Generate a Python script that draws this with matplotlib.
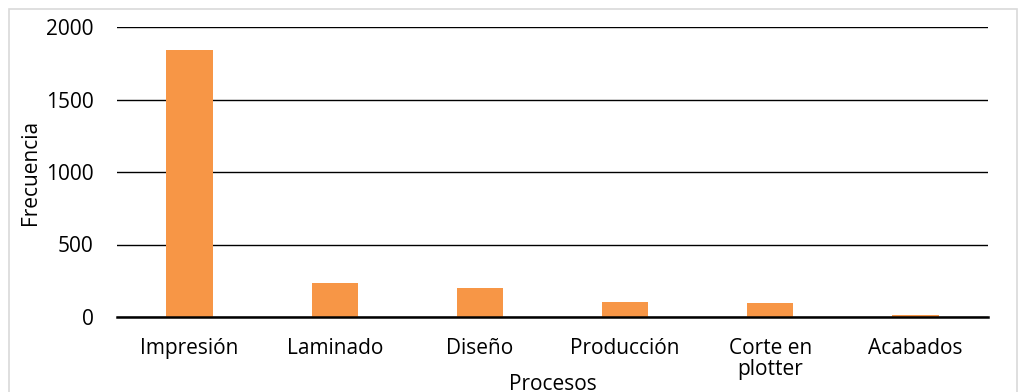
import matplotlib
matplotlib.use("Agg")
import matplotlib.pyplot as plt
from matplotlib.patches import Rectangle

categories = ["Impresión", "Laminado", "Diseño", "Producción", "Corte en\nplotter", "Acabados"]
values = [1840, 234, 202, 106, 95, 14]
yticks = [0, 500, 1000, 1500, 2000]

plt.rcParams['font.family'] = ['Open Sans', 'DejaVu Sans']

W, H = 1026, 392
fs = 15
fig = plt.figure(figsize=(W/100, H/100), dpi=100)
ax = fig.add_axes([117/W, 1-317/H, (988-117)/W, (317-27)/H])

x = list(range(len(categories)))
ax.bar(x, values, width=0.32, color="#F79646", zorder=3)
ax.set_xlim(-0.5, len(categories)-0.5)
ax.set_ylim(0, 2000)
ax.set_yticks(yticks)
ax.set_yticklabels([str(v) for v in yticks])
ax.yaxis.grid(True, color="black", linewidth=1.0, zorder=0)
ax.set_axisbelow(True)
for s in ["top", "right", "left"]:
    ax.spines[s].set_visible(False)
ax.spines["bottom"].set_color("black")
ax.spines["bottom"].set_linewidth(1.8)
ax.spines["bottom"].set_zorder(4)
ax.set_xticks(x)
ax.set_xticklabels(categories, linespacing=1.0)
ax.tick_params(axis="both", length=0, labelsize=fs)
ax.tick_params(axis="x", pad=15)
ax.tick_params(axis="y", pad=17)

ax.set_ylabel("Frecuencia", fontsize=fs)
ax.yaxis.set_label_coords(-0.087, 0.5)
ax.set_xlabel("Procesos", fontsize=fs, va="center")
ax.xaxis.set_label_coords(0.5, -0.233)

fig.patches.append(Rectangle((9/W, -0.05), (1017-9)/W, 1.05-9/H, transform=fig.transFigure,
                             fill=False, edgecolor="#D9D9D9", linewidth=1.2))

fig.savefig("out.png", dpi=100)
